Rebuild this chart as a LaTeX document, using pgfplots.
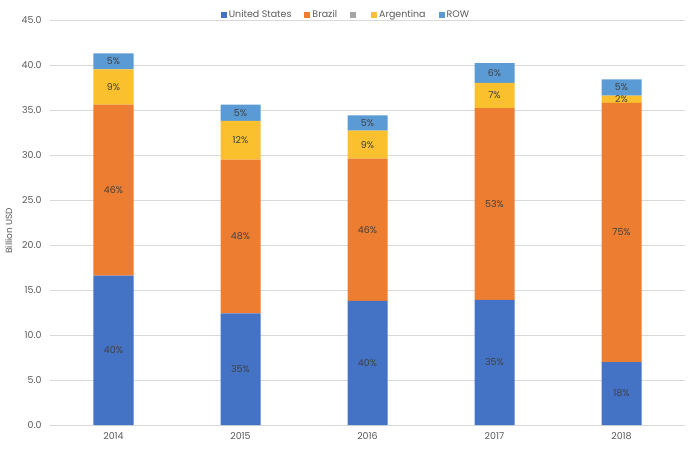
\documentclass[border=0pt]{standalone}
\usepackage{pgfplots}
\pgfplotsset{compat=1.18}
\usepackage{fontspec}
\setmainfont{Poppins}

\definecolor{usblue}{HTML}{4472C4}
\definecolor{brorange}{HTML}{ED7D31}
\definecolor{midgray}{HTML}{A5A5A5}
\definecolor{aryellow}{HTML}{FBC02D}
\definecolor{rowblue}{HTML}{5B9BD5}
\definecolor{gridgray}{HTML}{D9D9D9}
\definecolor{ticktext}{HTML}{595959}
\definecolor{labtext}{HTML}{404040}

\pgfplotsset{
  common/.style={
    scale only axis,
    width=635bp, height=405bp,
    at={(0,0)}, anchor=south west,
    xmin=-0.5, xmax=4.5,
    ymin=0, ymax=45,
  }
}

\begin{document}
\begin{tikzpicture}
\begin{axis}[
  common,
  ybar stacked,
  bar width=40bp,
  xtick={0,1,2,3,4},
  xticklabels={2014,2015,2016,2017,2018},
  ytick={0,5,...,45},
  yticklabel={\pgfmathprintnumber[fixed,fixed zerofill,precision=1]{\tick}},
  /pgf/number format/assume math mode=true,
  major tick length=0pt,
  ymajorgrids,
  grid style={gridgray, line width=0.7pt},
  axis x line*=bottom,
  axis y line*=left,
  x axis line style={gridgray, line width=0.7pt},
  y axis line style={draw=none},
  tick label style={font=\fontsize{9.5}{11}\selectfont, text=ticktext},
  yticklabel style={xshift=-5bp},
  xticklabel style={yshift=-4bp},
  ylabel={Billion USD},
  every axis y label/.style={at={(axis description cs:-0.065,0.48)}, rotate=90, anchor=center,
    font=\fontsize{9}{11}\selectfont, text=ticktext},
  legend style={at={(axis description cs:0.466,1.012)}, anchor=center, draw=none, fill=none,
    font=\fontsize{9.5}{11}\selectfont, text=ticktext,
    /tikz/every even column/.append style={column sep=11bp}},
  legend columns=-1,
  legend image code/.code={\fill[#1] (0bp,-3bp) rectangle (6bp,3bp);},
]
\addplot[fill=usblue, draw=none] coordinates {(0,16.6) (1,12.4) (2,13.8) (3,13.9) (4,7.0)};
\addlegendentry{United States}
\addplot[fill=brorange, draw=none] coordinates {(0,19.0) (1,17.1) (2,15.8) (3,21.3) (4,28.8)};
\addlegendentry{Brazil}
\addlegendimage{fill=midgray, draw=none}
\addlegendentry{}
\addplot[fill=aryellow, draw=none] coordinates {(0,3.9) (1,4.3) (2,3.1) (3,2.8) (4,0.8)};
\addlegendentry{Argentina}
\addplot[fill=rowblue, draw=none] coordinates {(0,1.8) (1,1.8) (2,1.7) (3,2.2) (4,1.8)};
\addlegendentry{ROW}
\end{axis}

\begin{axis}[
  common,
  hide axis,
]
\addplot[draw=none, mark=none, nodes near coords, point meta=explicit symbolic,
  nodes near coords align=center,
  every node near coord/.append style={font=\fontsize{9.5}{11}\selectfont, text=labtext}]
  coordinates {
  (0,8.3)[40\%] (0,26.1)[46\%] (0,37.55)[9\%] (0,40.4)[5\%]
  (1,6.2)[35\%] (1,20.95)[48\%] (1,31.65)[12\%] (1,34.7)[5\%]
  (2,6.9)[40\%] (2,21.7)[46\%] (2,31.15)[9\%] (2,33.55)[5\%]
  (3,6.95)[35\%] (3,24.55)[53\%] (3,36.6)[7\%] (3,39.1)[6\%]
  (4,3.5)[18\%] (4,21.4)[75\%] (4,36.2)[2\%] (4,37.5)[5\%]
  };
\end{axis}

\pgfresetboundingbox
\path (-50bp,-25bp) rectangle (645bp,425bp);
\end{tikzpicture}
\end{document}
